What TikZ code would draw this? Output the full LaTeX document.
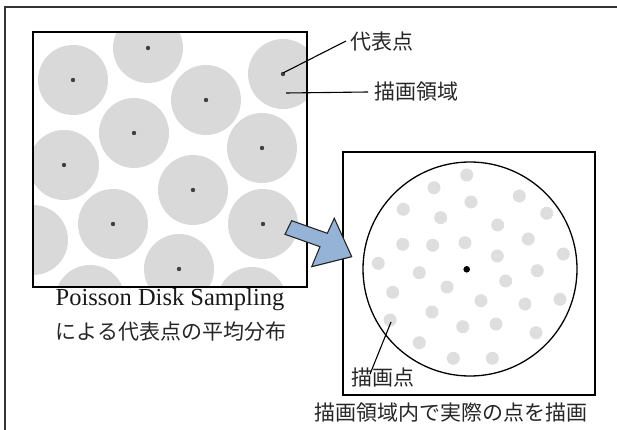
\documentclass[tikz,border=0pt]{standalone}
\usepackage{fontspec}
\newfontfamily\cjk{Noto Sans CJK JP}
\newfontfamily\latinserif{Liberation Serif}
\begin{document}
\begin{tikzpicture}[x=1pt,y=-1pt,
  boxline/.style={draw=black,line width=1.3pt},
  disk/.style={fill=diskgray},
  smalldot/.style={fill=black!75},
  drawdot/.style={fill=dotgray},
  leader/.style={draw=black,line width=1.1pt},
  jtext/.style={inner sep=0pt,font=\cjk\fontsize{21}{24}\selectfont,text=black!85},
  ltext/.style={inner sep=0pt,font=\latinserif\fontsize{24.5}{27}\selectfont,text=black!90}]
\definecolor{diskgray}{HTML}{D9D9D9}
\definecolor{dotgray}{HTML}{DEDEDE}
\definecolor{arrowblue}{HTML}{95B3D7}
\useasboundingbox (0,0) rectangle (617,430);
\clip (0,0) rectangle (617,430);
% outer frame (cropped)
\draw[draw=black!80,line width=1.8pt] (5,7) rectangle (660,480);
% left box with disks
\begin{scope}
  \clip (33,32) rectangle (307,287);
  \foreach \x/\y in {148/48,73/80,206/100,283/74,134/133,64/165,262/148,193/190,113/224,263/224,179/269,33/240,90/300,252/302}
    \fill[disk] (\x,\y) circle (35);
  \foreach \x/\y in {148/48,73/80,206/100,283/74,134/133,64/165,262/148,193/190,113/224,263/224,179/269}
    \fill[smalldot] (\x,\y) circle (2.2);
\end{scope}
\node[boxline,minimum width=274pt,minimum height=255pt,inner sep=0pt] (leftbox) at (170,159.5) {};
% right box
\node[boxline,minimum width=252pt,minimum height=243pt,inner sep=0pt] (rightbox) at (469,273.5) {};
\node[draw=black,line width=1.3pt,circle,minimum size=214pt,inner sep=0pt] (area) at (470,269) {};
\foreach \x/\y in {466.7/175,434/187.7,519.3/196,471/202,403.3/209.3,440.7/217.7,546.7/213.3,497.7/225,402.7/244.3,432.7/245.3,465/242.7,528.3/239,563.3/254,378.3/263.3,419.3/272.7,497.3/256,537.3/270.7,447/287,505.7/281,481/300.7,525/304,560/299.3,392.7/292.3,432/312,390/320,462.7/326.7,496/324,419.3/342.7,536/332.7,453.3/358.3,492.3/358.3}
  \fill[drawdot] (\x,\y) circle (6.5);
\fill[black] (466.7,269.3) circle (3.3);
% block arrow
\filldraw[fill=arrowblue,draw=black!85,line width=1.1pt,line join=miter]
  (291.7,220.7) -- (327.3,233.3) -- (334.3,218.3) -- (351.7,256.7) -- (311.7,266.7) -- (320,246.7) -- (285,234.3) -- cycle;
% labels
\node[jtext,anchor=west] (daihyo) at (350,42) {代表点};
\node[jtext,anchor=west] (ryoiki) at (374,92) {描画領域};
\node[ltext] (poisson) at (170,300) {Poisson Disk Sampling};
\node[jtext] (heikin) at (171,332) {による代表点の平均分布};
\node[jtext] (byogaten) at (383,378) {描画点};
\node[jtext] (caption) at (451,413) {描画領域内で実際の点を描画};
% leaders
\coordinate (rep) at (283,73);
\coordinate (reg) at (286,93);
\coordinate (pt) at (391,322);
\draw[leader] (rep) -- ([xshift=-4pt,yshift=1pt]daihyo.west);
\draw[leader] (reg) -- ([xshift=-6pt]ryoiki.west);
\draw[leader] ([xshift=-13pt,yshift=-6pt]byogaten.north) -- (pt);
\end{tikzpicture}
\end{document}
